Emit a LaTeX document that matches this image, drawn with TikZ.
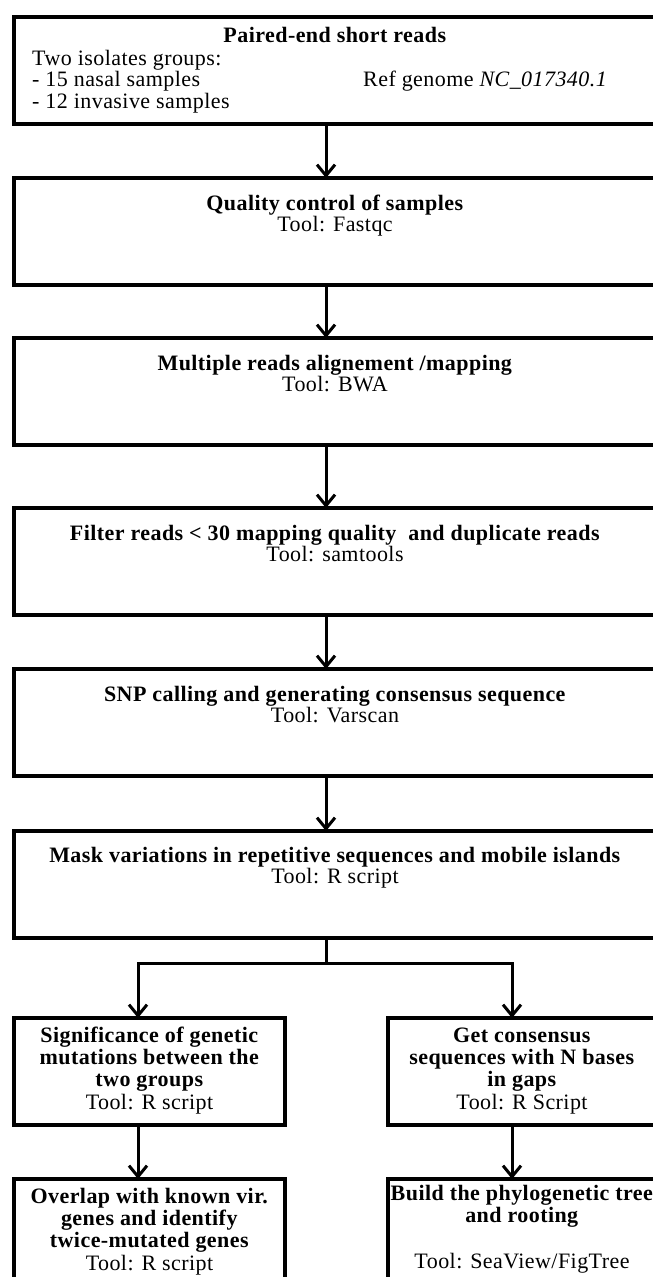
\documentclass[tikz,border=0pt]{standalone}
\usepackage{fontspec}
\setmainfont{Liberation Serif}[LetterSpace=2.0]
\usetikzlibrary{positioning,arrows.meta,shadows}

\begin{document}
\begin{tikzpicture}[
  x=1pt,y=-1pt,
  font=\fontsize{22}{21.5}\selectfont,
  node distance=54pt and 103pt,
  box/.style={draw,line width=4pt,fill=white,outer sep=0pt,inner sep=0pt,
              drop shadow={shadow xshift=-1pt,shadow yshift=-2pt,opacity=.3}},
  wide/.style={box,minimum width=642pt,minimum height=107pt},
  lbox/.style={box,minimum width=271pt,minimum height=107pt},
  rbox/.style={box,minimum width=268pt,minimum height=107pt},
  txt/.style={align=center,inner sep=0pt,anchor=base},
  stxt/.style={txt,font=\fontsize{22}{22.3}\selectfont},
  ln/.style={line width=3pt},
  ar/.style={ln,-{Straight Barb[length=11pt,width=18pt]}}
]
\useasboundingbox (0,0) rectangle (653,1277);
\clip (0,0) rectangle (653,1277);
% main column
\node[wide,anchor=north west] (b1) at (14,17) {};
\node[wide,below=of b1] (b2) {};
\node[wide,below=53pt of b2] (b3) {};
\node[wide,below=63pt of b3] (b4) {};
\node[wide,below=of b4] (b5) {};
\node[wide,below=55pt of b5] (b6) {};
% two branches
\node[lbox,below=80pt of b6.south west,anchor=north west] (l1) {};
\node[rbox,right=of l1] (r1) {};
\node[lbox,below=of l1] (l2) {};
\node[rbox,below=of r1] (r2) {};
% texts (base = last line)
\node[txt] (t1) at (335,42) {\textbf{Paired-end short reads}};
\node[txt,anchor=base west,align=left] (grp) at (32,108)
   {Two isolates groups:\\- 15 nasal samples\\- 12 invasive samples};
\node[txt,anchor=base west] (ref) at (363,86) {Ref genome \textit{NC\_017340.1}};
\node[txt] (t2) at ([yshift=-53.5pt]b2.north) {\textbf{Quality control of samples}\\Tool: Fastqc};
\node[txt] (t3) at ([yshift=-53.5pt]b3.north) {\textbf{Multiple reads alignement /mapping}\\Tool: BWA};
\node[txt] (t4) at ([yshift=-53.5pt]b4.north)
   {\textbf{Filter reads < 30 mapping quality \ and duplicate reads}\\Tool: samtools};
\node[txt] (t5) at ([yshift=-53.5pt]b5.north)
   {\textbf{SNP calling and generating consensus sequence}\\Tool: Varscan};
\node[txt] (t6) at ([yshift=-52.5pt]b6.north)
   {\textbf{Mask variations in repetitive sequences and mobile islands}\\Tool: R script};
\node[stxt] (tl1) at ([yshift=-91pt]l1.north)
   {\textbf{Significance of genetic}\\\textbf{mutations between the}\\\textbf{two groups}\\Tool: R script};
\node[stxt] (tr1) at ([yshift=-91pt]r1.north)
   {\textbf{Get consensus}\\\textbf{sequences with N bases}\\\textbf{in gaps}\\Tool: R Script};
\node[stxt] (tl2) at ([yshift=-91pt]l2.north)
   {\textbf{Overlap with known vir.}\\\textbf{genes and identify}\\\textbf{twice-mutated genes}\\Tool: R script};
\node[stxt] (tr2) at ([yshift=-89pt]r2.north)
   {\textbf{Build the phylogenetic tree}\\\textbf{and rooting}\\[23pt]Tool: SeaView/FigTree};
% connectors
\coordinate (spine) at (326,0);
\coordinate (lcol) at (138,0);
\coordinate (rcol) at (512,0);
\coordinate (split) at (326,963);
\draw[ar] (b1.south -| spine) -- (b2.north -| spine);
\draw[ar] (b2.south -| spine) -- (b3.north -| spine);
\draw[ar] (b3.south -| spine) -- (b4.north -| spine);
\draw[ar] (b4.south -| spine) -- (b5.north -| spine);
\draw[ar] (b5.south -| spine) -- (b6.north -| spine);
\draw[ln] (b6.south -| spine) -- (split);
\draw[ar] (split) -| (l1.north -| lcol);
\draw[ar] (split) -| (r1.north -| rcol);
\draw[ar] (l1.south -| lcol) -- (l2.north -| lcol);
\draw[ar] (r1.south -| rcol) -- (r2.north -| rcol);
\end{tikzpicture}
\end{document}
